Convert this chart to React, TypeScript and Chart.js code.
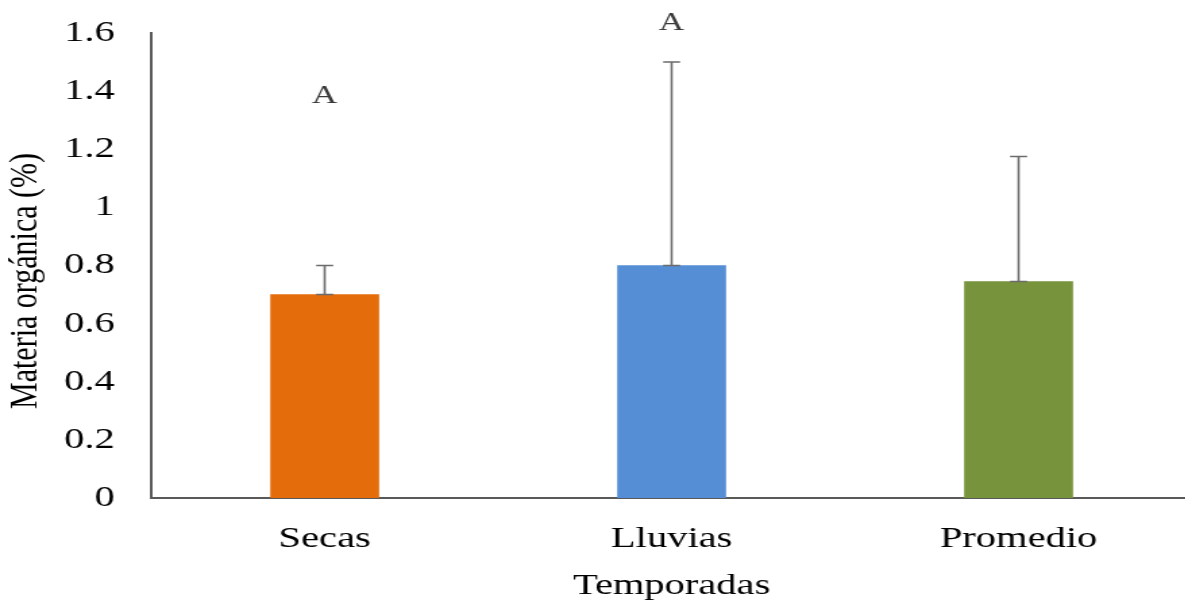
import React, { useEffect, useRef } from "react";
import { Chart, registerables } from "chart.js";

Chart.register(...registerables);

const categories = ["Secas", "Lluvias", "Promedio"];
const values = [0.7, 0.8, 0.745];
const errors = [0.1, 0.7, 0.43];
const barColors = ["#E46C0A", "#558ED5", "#77933C"];
const letters = ["A", "A", ""];
const letterPositions = [1.358, 1.61, 0];
const yTicks = [0, 0.2, 0.4, 0.6, 0.8, 1, 1.2, 1.4, 1.6];
const yTitle = "Materia orgánica (%)";
const xTitle = "Temporadas";

const STRETCH = 1.35;
const INTERNAL_W = 889;
const H = 604;
const FONT_FAMILY = "'Liberation Serif', 'Times New Roman', serif";

const errorBarPlugin = {
  id: "errorBars",
  afterDatasetsDraw(chart: any) {
    const ctx = chart.ctx;
    const meta = chart.getDatasetMeta(0);
    const y = chart.scales.y;
    ctx.save();
    ctx.strokeStyle = "#6b6b6b";
    ctx.lineWidth = 1.6;
    meta.data.forEach((bar: any, i: number) => {
      const x = bar.x;
      const y0 = y.getPixelForValue(values[i]);
      const y1 = y.getPixelForValue(values[i] + errors[i]);
      const cap = 6.3;
      ctx.beginPath();
      ctx.moveTo(x, y0);
      ctx.lineTo(x, y1);
      ctx.moveTo(x - cap, y1);
      ctx.lineTo(x + cap, y1);
      ctx.moveTo(x - cap, y0);
      ctx.lineTo(x + cap, y0);
      ctx.stroke();
    });
    ctx.fillStyle = "#3a3a3a";
    ctx.font = `26px ${FONT_FAMILY}`;
    ctx.textAlign = "center";
    ctx.textBaseline = "alphabetic";
    meta.data.forEach((bar: any, i: number) => {
      if (!letters[i]) return;
      ctx.fillText(letters[i], bar.x, y.getPixelForValue(letterPositions[i]));
    });
    ctx.restore();
  },
  afterDraw(chart: any) {
    const ctx = chart.ctx;
    ctx.save();
    ctx.fillStyle = "#000";
    ctx.font = `30px ${FONT_FAMILY}`;
    ctx.textAlign = "center";
    ctx.textBaseline = "middle";
    ctx.translate(19.5, 281);
    ctx.rotate(-Math.PI / 2);
    ctx.fillText(yTitle, 0, 0);
    ctx.restore();
  },
};

export default function App() {
  const ref = useRef<HTMLCanvasElement>(null);
  useEffect(() => {
    const canvas = ref.current!;
    canvas.width = INTERNAL_W;
    canvas.height = H;
    const font = { family: FONT_FAMILY, size: 30, lineHeight: 1 };
    const chart = new Chart(canvas, {
      type: "bar",
      data: {
        labels: categories,
        datasets: [
          {
            data: values,
            backgroundColor: barColors,
            borderWidth: 0,
            barThickness: 80,
          },
        ],
      },
      options: {
        animation: false,
        responsive: false,
        devicePixelRatio: 1,
        layout: { padding: { top: 33, right: 6, left: 0, bottom: 0 } },
        plugins: { legend: { display: false }, tooltip: { enabled: false } },
        scales: {
          x: {
            grid: { display: false, drawTicks: false },
            border: { display: true, color: "#595959", width: 2 },
            ticks: { color: "#000", font, padding: 26 },
            title: { display: true, text: xTitle, color: "#000", font, padding: { top: 0, bottom: 3 } },
            afterFit: (s: any) => {
              s.height = 106;
              s.paddingLeft = 0;
              s.paddingRight = 0;
            },
          },
          y: {
            min: 0,
            max: 1.6,
            afterBuildTicks: (s: any) => {
              s.ticks = yTicks.map((v) => ({ value: v }));
            },
            grid: { display: false, drawTicks: false },
            border: { display: true, color: "#595959", width: 2 },
            ticks: {
              color: "#000",
              font,
              padding: 27,
              callback: (v: any) => Number(Number(v).toFixed(1)).toString(),
            },
            title: { display: false },
            afterFit: (s: any) => {
              s.width = 112;
              s.paddingTop = 0;
              s.paddingBottom = 0;
            },
          },
        },
      },
      plugins: [errorBarPlugin],
    });
    return () => chart.destroy();
  }, []);
  return (
    <div
      style={{
        position: "fixed",
        left: 0,
        top: 0,
        width: 1185,
        height: H,
        overflow: "hidden",
        background: "#fff",
      }}
    >
      <canvas
        ref={ref}
        style={{
          width: INTERNAL_W,
          height: H,
          transform: `scaleX(${STRETCH})`,
          transformOrigin: "0 0",
          display: "block",
        }}
      />
    </div>
  );
}
